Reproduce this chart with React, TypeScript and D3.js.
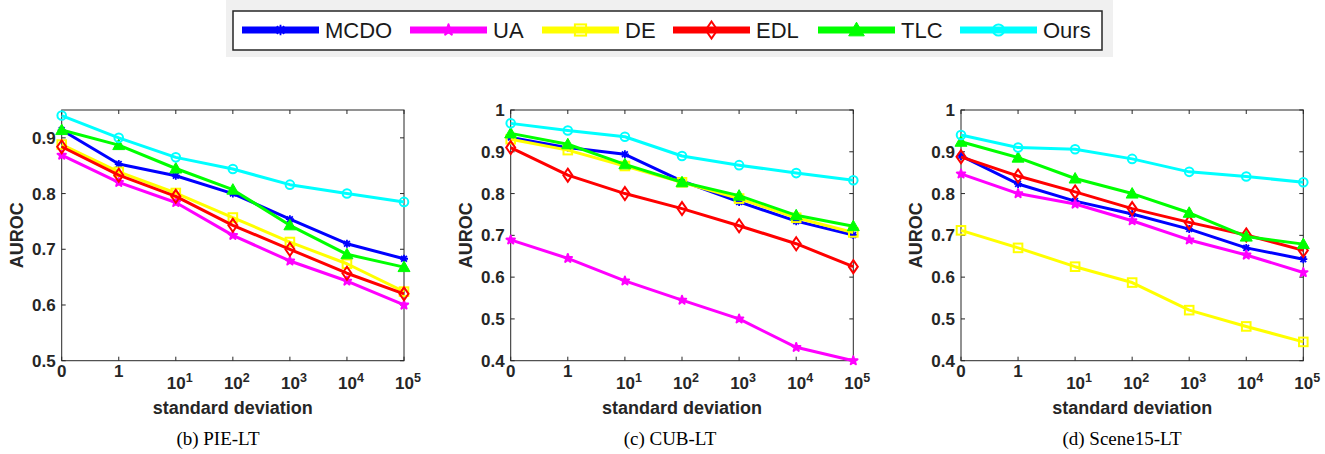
import React from 'react';
import * as d3 from 'd3';

// x axis: 0, 1, 10^1 ... 10^5
const xBase = ['0', '1', '10', '10', '10', '10', '10'];
const xExp = ['', '', '1', '2', '3', '4', '5'];

const methods = ['MCDO', 'UA', 'DE', 'EDL', 'TLC', 'Ours'];
const colors = ['#0000ff', '#ff00ff', '#ffff00', '#ff0000', '#00ff00', '#00ffff'];
const markers = ['asterisk', 'hexagram', 'square', 'diamond', 'triangle', 'circle'];

// (b) PIE-LT
const pieMCDO = [0.914, 0.853, 0.832, 0.8, 0.754, 0.71, 0.683];
const pieUA = [0.869, 0.82, 0.784, 0.725, 0.679, 0.643, 0.6];
const pieDE = [0.888, 0.839, 0.801, 0.757, 0.713, 0.674, 0.624];
const pieEDL = [0.884, 0.833, 0.795, 0.743, 0.7, 0.657, 0.62];
const pieTLC = [0.914, 0.887, 0.845, 0.807, 0.743, 0.691, 0.668];
const pieOurs = [0.94, 0.9, 0.865, 0.844, 0.816, 0.8, 0.785];
const pieTicks = [0.5, 0.6, 0.7, 0.8, 0.9];

// (c) CUB-LT
const cubMCDO = [0.934, 0.91, 0.894, 0.83, 0.78, 0.734, 0.701];
const cubUA = [0.689, 0.645, 0.591, 0.545, 0.5, 0.432, 0.4];
const cubDE = [0.93, 0.904, 0.866, 0.827, 0.788, 0.742, 0.707];
const cubEDL = [0.91, 0.844, 0.8, 0.764, 0.723, 0.68, 0.625];
const cubTLC = [0.944, 0.918, 0.87, 0.827, 0.795, 0.748, 0.722];
const cubOurs = [0.968, 0.951, 0.936, 0.89, 0.868, 0.849, 0.832];
const cubTicks = [0.4, 0.5, 0.6, 0.7, 0.8, 0.9, 1];

// (d) Scene15-LT
const sceneMCDO = [0.89, 0.823, 0.782, 0.751, 0.715, 0.67, 0.643];
const sceneUA = [0.847, 0.8, 0.775, 0.735, 0.689, 0.653, 0.611];
const sceneDE = [0.712, 0.67, 0.625, 0.587, 0.521, 0.482, 0.445];
const sceneEDL = [0.888, 0.842, 0.804, 0.764, 0.731, 0.701, 0.664];
const sceneTLC = [0.924, 0.886, 0.836, 0.8, 0.754, 0.697, 0.679];
const sceneOurs = [0.94, 0.91, 0.906, 0.883, 0.852, 0.841, 0.827];
const sceneTicks = [0.4, 0.5, 0.6, 0.7, 0.8, 0.9, 1];

const panels = [
  { caption: '(b) PIE-LT', domain: [0.5, 0.95], ticks: pieTicks, series: [pieMCDO, pieUA, pieDE, pieEDL, pieTLC, pieOurs], left: 61.7, right: 404, capX: 218 },
  { caption: '(c) CUB-LT', domain: [0.4, 1], ticks: cubTicks, series: [cubMCDO, cubUA, cubDE, cubEDL, cubTLC, cubOurs], left: 510.7, right: 853.3, capX: 670 },
  { caption: '(d) Scene15-LT', domain: [0.4, 1], ticks: sceneTicks, series: [sceneMCDO, sceneUA, sceneDE, sceneEDL, sceneTLC, sceneOurs], left: 961, right: 1303.3, capX: 1122 },
];

const TOP = 110;
const BOTTOM = 360.7;
const AX = '#262626';
const SANS = '"Liberation Sans", Arial, Helvetica, sans-serif';
const SERIF = '"Liberation Serif", "Times New Roman", serif';

const legendX = [242, 410, 542, 673, 818, 960];

function Marker({ type, x, y, color, s = 1 }) {
  if (type === 'circle') {
    return <circle cx={x} cy={y} r={4.3 * s} fill="none" stroke={color} strokeWidth={2} />;
  }
  if (type === 'triangle') {
    const h = 6 * s;
    return <path d={`M${x},${y - h}L${x + h},${y + h * 0.75}L${x - h},${y + h * 0.75}Z`} fill={color} stroke={color} strokeWidth={1} />;
  }
  if (type === 'diamond') {
    const w = 4.5 * s, h = 6.5 * s;
    return <path d={`M${x},${y - h}L${x + w},${y}L${x},${y + h}L${x - w},${y}Z`} fill="none" stroke={color} strokeWidth={2} />;
  }
  if (type === 'square') {
    const h = 4.3 * s;
    return <rect x={x - h} y={y - h} width={2 * h} height={2 * h} fill="none" stroke={color} strokeWidth={2} />;
  }
  if (type === 'hexagram') {
    const p = d3.symbol().type(d3.symbolStar).size(22 * s * s)();
    return <path d={p} transform={`translate(${x},${y})`} fill={color} stroke={color} strokeWidth={2} strokeLinejoin="round" />;
  }
  // asterisk
  const a = 4 * s, b = a * 0.72;
  return (
    <path
      d={`M${x - a},${y}L${x + a},${y}M${x},${y - a}L${x},${y + a}M${x - b},${y - b}L${x + b},${y + b}M${x - b},${y + b}L${x + b},${y - b}`}
      stroke={color}
      strokeWidth={1.8}
      fill="none"
    />
  );
}

function Panel({ p }) {
  const x = d3.scaleLinear().domain([0, xBase.length - 1]).range([p.left, p.right]);
  const y = d3.scaleLinear().domain(p.domain).range([BOTTOM, TOP]);
  const line = d3
    .line<number>()
    .x((d, i) => x(i))
    .y((d) => y(d));
  const cx = (p.left + p.right) / 2;
  const cy = (TOP + BOTTOM) / 2;
  const tl = 4;

  return (
    <g>
      {/* axes box */}
      <rect x={p.left} y={TOP} width={p.right - p.left} height={BOTTOM - TOP} fill="none" stroke={AX} strokeWidth={1} />
      {xBase.map((b, i) => (
        <g key={'xt' + i}>
          <line x1={x(i)} x2={x(i)} y1={BOTTOM} y2={BOTTOM - tl} stroke={AX} />
          <line x1={x(i)} x2={x(i)} y1={TOP} y2={TOP + tl} stroke={AX} />
          {xExp[i] === '' ? (
            <text x={x(i)} y={377} textAnchor="middle" fontFamily={SANS} fontWeight="bold" fontSize={17} fill={AX}>
              {b}
            </text>
          ) : (
            <text x={x(i) + 4} y={389} textAnchor="middle" fontFamily={SANS} fontWeight="bold" fontSize={17} fill={AX}>
              {b}
              <tspan fontSize={12.5} dy={-7.5}>{xExp[i]}</tspan>
            </text>
          )}
        </g>
      ))}
      {p.ticks.map((t) => (
        <g key={'yt' + t}>
          <line x1={p.left} x2={p.left + tl} y1={y(t)} y2={y(t)} stroke={AX} />
          <line x1={p.right} x2={p.right - tl} y1={y(t)} y2={y(t)} stroke={AX} />
          <text x={p.left - 6} y={y(t) + 6} textAnchor="end" fontFamily={SANS} fontWeight="bold" fontSize={17} fill={AX}>
            {t === 1 ? '1' : t.toFixed(1)}
          </text>
        </g>
      ))}
      <text x={cx} y={414} textAnchor="middle" fontFamily={SANS} fontWeight="bold" fontSize={18} fill={AX}>
        standard deviation
      </text>
      <text
        transform={`translate(${p.left - 39},${cy}) rotate(-90)`}
        textAnchor="middle"
        fontFamily={SANS}
        fontWeight="bold"
        fontSize={18}
        fill={AX}
      >
        AUROC
      </text>
      <text x={p.capX} y={445} textAnchor="middle" fontFamily={SERIF} fontSize={19} fill="#000">
        {p.caption}
      </text>
      {p.series.map((vals, k) => (
        <g key={'s' + k}>
          <path d={line(vals)} fill="none" stroke={colors[k]} strokeWidth={3} strokeLinejoin="round" />
          {vals.map((v, i) => (
            <Marker key={i} type={markers[k]} x={x(i)} y={y(v)} color={colors[k]} />
          ))}
        </g>
      ))}
    </g>
  );
}

export default function App() {
  return (
    <svg width={1325} height={454} style={{ position: 'absolute', left: 0, top: 0, background: '#fff' }}>
      <rect x={226} y={0} width={887} height={57} fill="#f0f0f0" />
      <rect x={233} y={11} width={869} height={39} fill="#fff" stroke={AX} strokeWidth={1.5} />
      {methods.map((m, k) => (
        <g key={m}>
          <line x1={legendX[k]} x2={legendX[k] + 77} y1={30} y2={30} stroke={colors[k]} strokeWidth={7} />
          <Marker type={markers[k]} x={legendX[k] + 38.5} y={30} color={colors[k]} s={1.3} />
          <text x={legendX[k] + 83} y={38} fontFamily={SANS} fontSize={22} fill="#1a1a1a">
            {m}
          </text>
        </g>
      ))}
      {panels.map((p) => (
        <Panel key={p.caption} p={p} />
      ))}
    </svg>
  );
}
